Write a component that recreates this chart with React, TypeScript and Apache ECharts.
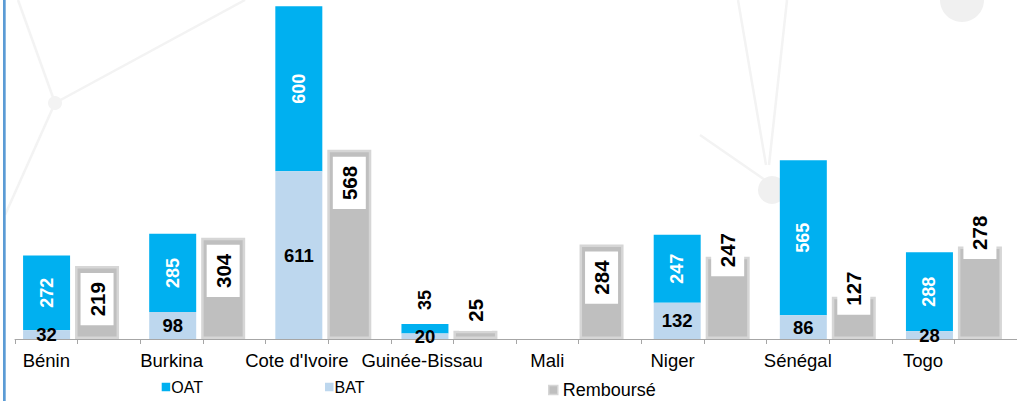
import React, { useEffect, useRef } from 'react';
import * as echarts from 'echarts';

// ---- data ----
const countries = ['Bénin', 'Burkina', "Cote d'Ivoire", 'Guinée-Bissau', 'Mali', 'Niger', 'Sénégal', 'Togo'];
const oatValues: (number | null)[] = [272, 285, 600, 35, null, 247, 565, 288];
const batValues: (number | null)[] = [32, 98, 611, 20, null, 132, 86, 28];
const rembourseValues: number[] = [219, 304, 568, 25, 284, 247, 127, 278];
// axis tick labels: one label per country, followed by an unlabeled slot
const tickLabels: string[] = countries.flatMap((c) => [c, '']);

// ---- style ----
const FONT = "'Liberation Sans', Arial, sans-serif";
const C_OAT = '#00B0F0';
const C_BAT = '#BDD7EE';
const C_REM = '#BFBFBF';
const C_REM_BORDER = '#D6D6D6';
const C_DECO = '#F3F3F3';

// label placement tweaks (style only)
const oatOutside: Record<string, number> = { 'Guinée-Bissau': 14 };
const remOutside: Record<string, number> = { 'Guinée-Bissau': 0, Niger: -19.5, 'Sénégal': -18, Togo: -12.5 };

export default function App() {
  const ref = useRef<HTMLDivElement>(null);

  useEffect(() => {
    if (!ref.current) return;
    const chart = echarts.init(ref.current, undefined, { renderer: 'svg' });

    const remLabelBase = {
      show: true,
      rotate: 90,
      color: '#000',
      fontWeight: 'bold' as const,
      fontSize: 20.5,
      fontFamily: FONT,
      lineHeight: 21,
      backgroundColor: '#FFFFFF',
      padding: [6, 9, 6, 9],
    };

    const option: any = {
      animation: false,
      backgroundColor: '#FFFFFF',
      textStyle: { fontFamily: FONT },
      grid: [
        { left: 15, right: -7.8, top: 6, bottom: 62 },
        { left: 8, right: -0.8, top: 6, bottom: 62 },
      ],
      xAxis: [
        {
          type: 'category',
          gridIndex: 0,
          data: tickLabels,
          boundaryGap: true,
          axisLine: { show: true, lineStyle: { color: '#A6A6A6', width: 1 } },
          axisTick: { show: true, length: 5, interval: 0, lineStyle: { color: '#A6A6A6' } },
          axisLabel: { interval: 0, fontSize: 18.5, color: '#000', fontFamily: FONT, margin: 12 },
          splitLine: { show: false },
        },
        {
          type: 'category',
          gridIndex: 1,
          data: countries,
          show: false,
        },
      ],
      yAxis: [
        { type: 'value', gridIndex: 0, show: false, min: 0, max: 1212 },
        { type: 'value', gridIndex: 1, show: false, min: 0, max: 1212, splitLine: { show: false } },
        { type: 'value', gridIndex: 1, show: false, min: 0, max: 1000, position: 'right', splitLine: { show: false } },
      ],
      legend: [
        {
          data: ['OAT'],
          left: 156.7,
          top: 374,
          itemWidth: 8.5,
          itemHeight: 8.5,
          icon: 'rect',
          textStyle: { fontSize: 16, color: '#000', fontFamily: FONT, padding: [0, 0, 0, -4] },
        },
        {
          data: ['BAT'],
          left: 320,
          top: 374,
          itemWidth: 8.5,
          itemHeight: 8.5,
          icon: 'rect',
          textStyle: { fontSize: 16, color: '#000', fontFamily: FONT, padding: [0, 0, 0, -4] },
        },
        {
          data: ['Remboursé'],
          left: 543,
          top: 376,
          itemWidth: 9,
          itemHeight: 9,
          icon: 'rect',
          itemStyle: { borderWidth: 1.5, borderColor: C_REM_BORDER },
          textStyle: { fontSize: 18, color: '#000', fontFamily: FONT },
        },
      ],
      graphic: {
        elements: [
          // faint decorative background network
          { type: 'line', z: -10, shape: { x1: 18, y1: 0, x2: 55, y2: 103 }, style: { stroke: C_DECO, lineWidth: 2.5 } },
          { type: 'line', z: -10, shape: { x1: 55, y1: 103, x2: 5, y2: 215 }, style: { stroke: C_DECO, lineWidth: 2.5 } },
          { type: 'line', z: -10, shape: { x1: 55, y1: 103, x2: 245, y2: 0 }, style: { stroke: C_DECO, lineWidth: 2.5 } },
          { type: 'circle', z: -10, shape: { cx: 55, cy: 103, r: 7 }, style: { fill: C_DECO } },
          { type: 'line', z: -10, shape: { x1: 738, y1: 0, x2: 766, y2: 165 }, style: { stroke: C_DECO, lineWidth: 2.5 } },
          { type: 'line', z: -10, shape: { x1: 787, y1: 0, x2: 769, y2: 165 }, style: { stroke: C_DECO, lineWidth: 2.5 } },
          { type: 'line', z: -10, shape: { x1: 700, y1: 135, x2: 765, y2: 180 }, style: { stroke: C_DECO, lineWidth: 2.5 } },
          { type: 'circle', z: -10, shape: { cx: 772, cy: 190, r: 14 }, style: { fill: '#F0F0F0' } },
          { type: 'circle', z: -10, shape: { cx: 962, cy: 0, r: 22 }, style: { fill: '#F0F0F0' } },
          // slide border on the left
          { type: 'rect', z: 10, shape: { x: 3, y: 0, width: 2.7, height: 401 }, style: { fill: '#5B9BD5' } },
        ],
      },
      series: [
        {
          name: 'BAT',
          type: 'bar',
          stack: 'loans',
          xAxisIndex: 1,
          yAxisIndex: 1,
          barWidth: 47,
          barGap: '10.6%',
          z: 3,
          itemStyle: { color: C_BAT },
          label: {
            show: true,
            position: 'inside',
            color: '#000',
            fontWeight: 'bold',
            fontSize: 18.5,
            fontFamily: FONT,
          },
          data: batValues,
        },
        {
          name: 'OAT',
          type: 'bar',
          stack: 'loans',
          xAxisIndex: 1,
          yAxisIndex: 1,
          barWidth: 47,
          barGap: '10.6%',
          z: 2,
          itemStyle: { color: C_OAT },
          label: {
            show: true,
            position: 'inside',
            rotate: 90,
            color: '#FFFFFF',
            fontWeight: 'bold',
            fontSize: 18,
            fontFamily: FONT,
          },
          data: oatValues.map((v, i) => {
            const d = oatOutside[countries[i]];
            if (d === undefined) return v;
            return {
              value: v,
              label: { position: 'top', distance: d, align: 'left', verticalAlign: 'middle', color: '#000' },
            };
          }),
        },
        {
          name: 'Remboursé',
          type: 'bar',
          stack: 'repaid',
          xAxisIndex: 1,
          yAxisIndex: 2,
          barWidth: 44,
          barGap: '10.6%',
          z: 2,
          itemStyle: { color: C_REM, borderColor: C_REM_BORDER, borderWidth: 2.5 },
          label: {
            ...remLabelBase,
            position: 'insideTop',
            distance: 7,
            align: 'right',
            verticalAlign: 'middle',
          },
          data: rembourseValues.map((v, i) => {
            const d = remOutside[countries[i]];
            if (d === undefined) return v;
            return {
              value: v,
              label: { position: 'top', distance: d, align: 'left', verticalAlign: 'middle' },
            };
          }),
        },
      ],
    };

    chart.setOption(option);
    return () => chart.dispose();
  }, []);

  return (
    <div
      ref={ref}
      style={{ position: 'fixed', left: 0, top: 0, width: 1017, height: 401, overflow: 'hidden' }}
    />
  );
}
